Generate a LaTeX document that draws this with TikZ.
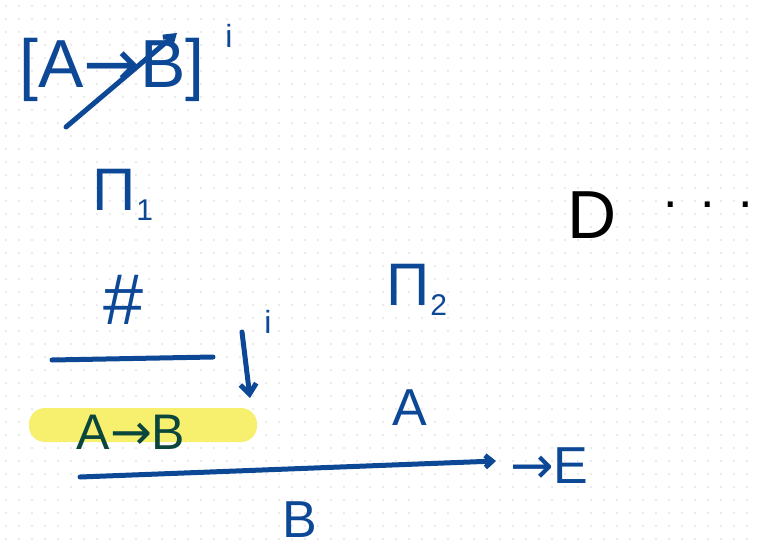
\documentclass[tikz,border=0pt]{standalone}
\usepackage{fontspec}
\setmainfont{Liberation Sans}
\newfontfamily\symfont{DejaVu Sans}
\usetikzlibrary{arrows.meta}
\definecolor{ink}{RGB}{12,72,150}
\definecolor{greenink}{RGB}{10,70,60}
\definecolor{hilite}{RGB}{246,240,110}
\definecolor{dotc}{RGB}{228,228,228}
\newcommand{\subone}[1]{\raisebox{-10pt}{\fontsize{30}{32}\selectfont #1}}
\tikzset{
  hand/.style={text=ink, inner sep=0pt},
  huge/.style={font=\fontsize{68}{72}\selectfont},
  big/.style={font=\fontsize{60}{64}\selectfont},
  mid/.style={font=\fontsize{52}{56}\selectfont},
  sup/.style={font=\fontsize{32}{34}\selectfont},
  stroke/.style={draw=ink, line width=5pt, line cap=round},
}
\begin{document}
\begin{tikzpicture}[x=1pt,y=-1pt]
\useasboundingbox (0,0) rectangle (757,551);
\fill[white] (0,0) rectangle (757,551);
% dot grid
\foreach \i in {0,...,58} {\foreach \j in {0,...,42} {
  \fill[dotc] (6+13*\i,6+13*\j) circle (1.2pt);}}
% top assumption
\node[hand, huge] (asm) at (112,70) {[A{\symfont→}B]};
\node[hand, sup] (asmi) at (229,36) {i};
\coordinate (s1) at (66,127);
\coordinate (s2) at (177,33);
\draw[stroke, -{Straight Barb[length=9pt,width=12pt]}] (s1) -- (s2);
% Pi_1
\node[hand, big] (pi1) at (123,195) {Π\subone{1}};
% contradiction
\node[hand, font=\fontsize{72}{76}\selectfont] (bot) at (124,300) {\#};
% inference line
\coordinate (l1a) at (52,360);
\coordinate (l1b) at (213,357);
\draw[stroke] (l1a) -- (l1b);
% discharge arrow
\coordinate (da) at (242,332);
\coordinate (db) at (250,398);
\draw[stroke, -{Straight Barb[length=10pt,width=16pt]}] (da) -- (db);
\node[hand, sup] (di) at (268,322) {i};
% highlighted conclusion
\node[fill=hilite, rounded corners=16pt, minimum width=228pt, minimum height=34pt] (hl) at (143,425) {};
\node[text=greenink, inner sep=0pt, font=\fontsize{50}{54}\selectfont] (ab) at (131,432) {A{\symfont→}B};
% Pi_2
\node[hand, big] (pi2) at (417,290) {Π\subone{2}};
\node[hand, mid] (a2) at (410,408) {A};
% main inference line
\coordinate (l2a) at (80,477);
\coordinate (l2b) at (496,461);
\draw[stroke, -{Straight Barb[length=7pt,width=12pt]}] (l2a) -- (l2b);
\node[hand, mid, anchor=west] (ruleE) at (510,466) {{\symfont→}E};
\node[hand, mid] (b) at (300,520) {B};
% D ...
\node[inner sep=0pt, huge] (d) at (592,215) {D};
\node[inner sep=0pt, font=\fontsize{52}{56}\selectfont] (dots) at (708,205) {.\hspace{23pt}.\hspace{23pt}.};
\end{tikzpicture}
\end{document}
